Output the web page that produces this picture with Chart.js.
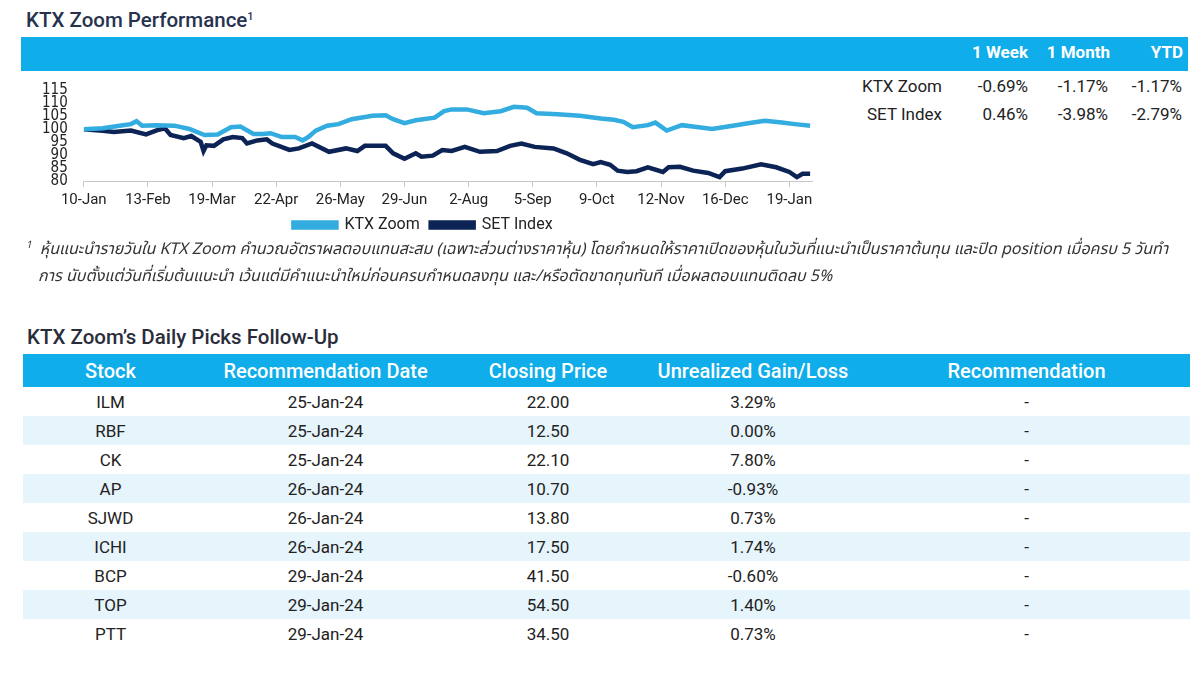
<!DOCTYPE html>
<html>
<head>
<meta charset="utf-8">
<script src="https://cdn.jsdelivr.net/npm/chart.js@4.4.1/dist/chart.umd.min.js"></script>
<style>
  body { margin: 0; width: 1200px; height: 673px; background: #fff; position: relative; overflow: hidden;
         font-family: Roboto, "Noto Sans", sans-serif; color: #222; }
  .abs { position: absolute; }
  .title { font-size: 20.5px; font-weight: 500; color: #27324f; white-space: nowrap; }
  .title sup { font-size: 11px; vertical-align: 7px; }
  .bar { background: #0fadea; }
  .hdr { color: #fff; font-weight: 700; font-size: 17px; white-space: nowrap; }
  .perf td { font-size: 17px; height: 28px; padding: 0; text-align: right; white-space: nowrap; }
  .note { font-style: italic; font-size: 16px; color: #333; line-height: 27px; white-space: nowrap;
          font-family: "Noto Sans Thai", "Loma", "Garuda", "Noto Sans", sans-serif; }
  table.picks { border-collapse: collapse; width: 1167px; }
  table.picks th { background: #0fadea; color: #fff; font-weight: 500; font-size: 20px; height: 33px; padding: 0; }
  table.picks td { font-size: 17px; height: 29px; padding: 0; text-align: center; }
  table.picks tbody tr:nth-child(even) td { background: #e6f4fb; }
</style>
</head>
<body>
<div class="abs title" style="left:26px; top:8px;">KTX Zoom Performance<sup>1</sup></div>
<div class="abs bar" style="left:21px; top:37px; width:1167px; height:34px;"></div>
<div class="abs hdr" style="right:172px; top:42px;">1 Week</div>
<div class="abs hdr" style="right:90px; top:42px;">1 Month</div>
<div class="abs hdr" style="right:17px; top:42px;">YTD</div>
<table class="abs perf" style="left:840px; top:72px; border-collapse:collapse;">
  <tr><td style="width:102px;">KTX Zoom</td><td style="width:86px;">-0.69%</td><td style="width:80px;">-1.17%</td><td style="width:74px;">-1.17%</td></tr>
  <tr><td>SET Index</td><td>0.46%</td><td>-3.98%</td><td>-2.79%</td></tr>
</table>

<div class="abs" style="left:34px; top:75px; width:792px; height:168px;">
  <canvas id="perfChart"></canvas>
</div>

<div class="abs note" style="left:26px; top:232px;"><span style="font-size:10px; vertical-align:6px; margin-right:8px;">1</span>หุ้นแนะนำรายวันใน KTX Zoom คำนวณอัตราผลตอบแทนสะสม (เฉพาะส่วนต่างราคาหุ้น) โดยกำหนดให้ราคาเปิดของหุ้นในวันที่แนะนำเป็นราคาต้นทุน และปิด position เมื่อครบ 5 วันทำ<br><span style="margin-left:12px;"></span>การ นับตั้งแต่วันที่เริ่มต้นแนะนำ เว้นแต่มีคำแนะนำใหม่ก่อนครบกำหนดลงทุน และ/หรือตัดขาดทุนทันที เมื่อผลตอบแทนติดลบ 5%</div>

<div class="abs title" style="left:27px; top:325px; color:#2a2d3a;">KTX Zoom’s Daily Picks Follow-Up</div>
<table class="abs picks" style="left:23px; top:354px;" id="picks">
  <thead><tr><th style="width:175px;">Stock</th><th style="width:255px;">Recommendation Date</th><th style="width:190px;">Closing Price</th><th style="width:220px;">Unrealized Gain/Loss</th><th>Recommendation</th></tr></thead>
  <tbody></tbody>
</table>

<script>
// performance chart data (rebased to 100, x = days since 10-Jan)
const tickDays = [0, 34, 68, 102, 136, 170, 204, 238, 272, 306, 340, 374];
const tickLabels = ["10-Jan", "13-Feb", "19-Mar", "22-Apr", "26-May", "29-Jun", "2-Aug", "5-Sep", "9-Oct", "12-Nov", "16-Dec", "19-Jan"];
const yTicks = [80, 85, 90, 95, 100, 105, 110, 115];

const ktxDays = [0, 10, 19, 25, 28, 31, 38, 48, 56, 64, 71, 78, 83, 90, 95, 99, 105, 112, 116, 119, 123, 129, 135, 142, 153, 160, 164, 170, 176, 186, 191, 195, 203, 212, 221, 228, 235, 240, 251, 263, 274, 281, 286, 291, 299, 303, 309, 317, 326, 333, 344, 353, 361, 370, 377, 385];
const ktxValues = [100, 100.4, 101.4, 102, 103.1, 101.4, 101.6, 101.4, 100.1, 97.8, 98, 100.8, 101.1, 98.2, 98.2, 98.5, 97, 97, 95.7, 97, 99.5, 101.4, 102, 103.9, 105.2, 105.4, 103.9, 102.4, 103.5, 104.5, 107, 107.7, 107.7, 106.2, 107, 108.7, 108.3, 106.2, 105.8, 105.2, 104.2, 103.7, 102.9, 100.8, 101.6, 102.6, 99.5, 101.6, 100.8, 100.1, 101.4, 102.4, 103.3, 102.6, 102, 101.4];

const setDays = [0, 10, 16, 25, 33, 39, 43, 46, 53, 57, 62, 63.5, 65, 69, 74, 79, 84, 86.5, 92, 97, 100, 109, 114, 121, 130, 139, 145, 149, 160, 164, 170, 176, 179, 185, 190, 195, 202, 210, 219, 226, 232, 239, 249, 256, 263, 270, 274, 279, 283, 288, 293, 299, 307, 310, 316, 323, 331, 337, 340, 349, 359, 367, 374, 378, 381, 385];
const setValues = [100, 99.4, 99, 99.5, 98, 99.7, 100.4, 97.8, 96.6, 97.4, 95.1, 91.6, 93.8, 93.6, 96.1, 97, 96.6, 94.5, 95.7, 96.1, 94.5, 92, 92.6, 94.5, 91.3, 92.6, 91.6, 93.6, 93.6, 90.7, 88.6, 90.7, 89.4, 89.8, 92, 91.6, 93.2, 91.3, 91.6, 93.6, 94.5, 93.2, 92.6, 90.7, 88.2, 86.5, 87.3, 86.3, 84, 83.5, 83.8, 85.3, 83.5, 85.3, 85.5, 84, 83.1, 81.5, 83.8, 84.8, 86.5, 85.3, 83.5, 81.5, 82.8, 82.8];

// daily picks table
const stocks = ["ILM", "RBF", "CK", "AP", "SJWD", "ICHI", "BCP", "TOP", "PTT"];
const recDates = ["25-Jan-24", "25-Jan-24", "25-Jan-24", "26-Jan-24", "26-Jan-24", "26-Jan-24", "29-Jan-24", "29-Jan-24", "29-Jan-24"];
const closePrices = ["22.00", "12.50", "22.10", "10.70", "13.80", "17.50", "41.50", "54.50", "34.50"];
const gainLoss = ["3.29%", "0.00%", "7.80%", "-0.93%", "0.73%", "1.74%", "-0.60%", "1.40%", "0.73%"];

const tbody = document.querySelector("#picks tbody");
stocks.forEach((s, i) => {
  const tr = document.createElement("tr");
  [s, recDates[i], closePrices[i], gainLoss[i], "-"].forEach(v => {
    const td = document.createElement("td");
    td.textContent = v;
    tr.appendChild(td);
  });
  tbody.appendChild(tr);
});

const toPoints = (xs, ys) => xs.map((x, i) => ({ x: x, y: ys[i] }));

new Chart(document.getElementById("perfChart"), {
  type: "line",
  data: {
    datasets: [
      {
        label: "KTX Zoom",
        data: toPoints(ktxDays, ktxValues),
        borderColor: "#33acdf",
        backgroundColor: "#33acdf",
        borderWidth: 4.5,
        pointRadius: 0,
        tension: 0,
      },
      {
        label: "SET Index",
        data: toPoints(setDays, setValues),
        borderColor: "#0c2356",
        backgroundColor: "#0c2356",
        borderWidth: 4.5,
        pointRadius: 0,
        tension: 0,
      },
    ],
  },
  options: {
    responsive: true,
    maintainAspectRatio: false,
    animation: false,
    layout: { padding: { top: 5, right: 14 } },
    plugins: {
      legend: {
        position: "bottom",
        labels: {
          boxWidth: 43,
          boxHeight: 5,
          padding: 3,
          color: "#222",
          font: { size: 16, family: "Roboto" },
          // a little room after the first label so the items don't touch
          generateLabels: (chart) =>
            Chart.defaults.plugins.legend.labels.generateLabels(chart).map((l, i) => (i === 0 ? { ...l, text: l.text + "  " } : l)),
        },
      },
      tooltip: { enabled: false },
    },
    scales: {
      x: {
        type: "linear",
        min: 0,
        max: 386,
        afterBuildTicks: (axis) => { axis.ticks = tickDays.map(v => ({ value: v })); },
        ticks: {
          autoSkip: false,
          maxRotation: 0,
          color: "#222",
          font: { size: 15, lineHeight: 1, family: "Roboto" },
          padding: 6,
          callback: (v) => tickLabels[tickDays.indexOf(v)],
        },
        grid: { drawOnChartArea: false, tickLength: 6, color: "#c8c8c8" },
        border: { color: "#c8c8c8" },
      },
      y: {
        min: 80,
        max: 115,
        afterBuildTicks: (axis) => { axis.ticks = yTicks.map(v => ({ value: v })); },
        ticks: {
          autoSkip: false,
          color: "#222",
          padding: 8,
          font: { size: 15, lineHeight: 1, family: "'Liberation Sans Narrow', 'DejaVu Sans Condensed', sans-serif" },
        },
        grid: { display: false },
        border: { display: false },
      },
    },
  },
});
</script>
</body>
</html>
